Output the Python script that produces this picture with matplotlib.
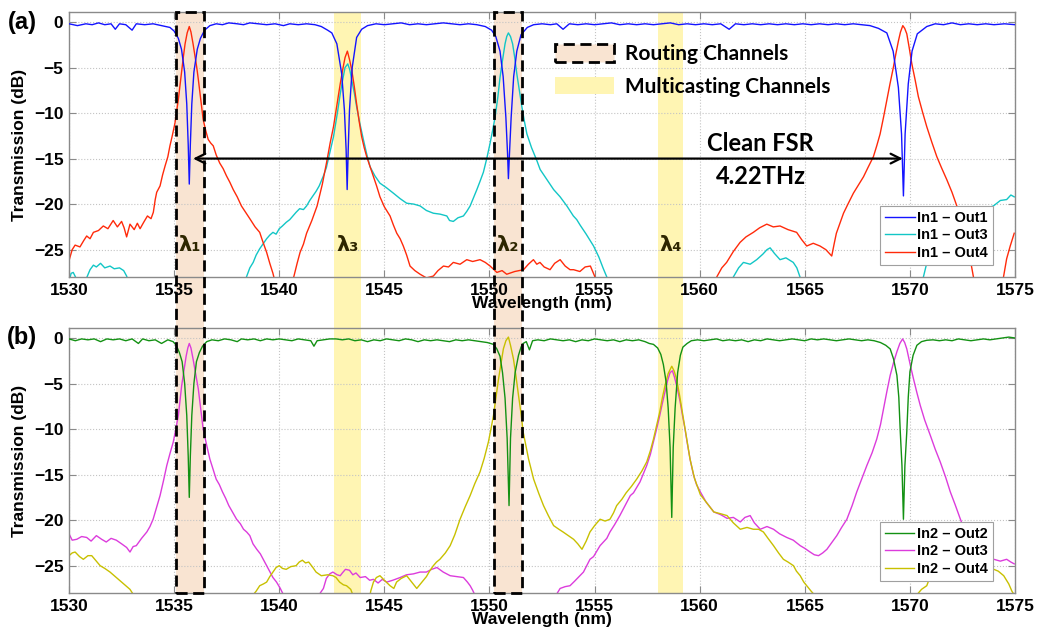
import matplotlib
matplotlib.use('Agg')
import matplotlib.pyplot as plt
from matplotlib.patches import Rectangle, Patch
import matplotlib.transforms as mtransforms

# ---------------- data ----------------
# (a) In1 -> Out1 (through port)
in1_out1_wl = [1530.0, 1530.4, 1530.8, 1531.1, 1531.4, 1531.7, 1532.0, 1532.2, 1532.4, 1532.7, 1533.0, 1533.2,
               1533.6, 1534.0, 1534.4, 1534.8, 1535.0, 1535.2, 1535.35, 1535.5, 1535.6, 1535.67, 1535.72, 1535.77,
               1535.84, 1535.94, 1536.1, 1536.25, 1536.45, 1536.7, 1537.0, 1537.3, 1537.6, 1538.0, 1538.3, 1538.6,
               1539.0, 1539.4, 1539.8, 1540.2, 1540.5, 1540.9, 1541.3, 1541.7, 1542.0, 1542.3, 1542.5, 1542.74,
               1542.97, 1543.1, 1543.18, 1543.23, 1543.28, 1543.34, 1543.47, 1543.68, 1543.92, 1544.2, 1544.6,
               1545.0, 1545.4, 1545.8, 1546.2, 1546.6, 1547.0, 1547.4, 1547.8, 1548.2, 1548.6, 1549.0, 1549.4,
               1549.8, 1550.1, 1550.3, 1550.5, 1550.65, 1550.78, 1550.86, 1550.9, 1550.95, 1551.03, 1551.15,
               1551.3, 1551.5, 1551.8, 1552.1, 1552.5, 1552.9, 1553.2, 1553.5, 1553.8, 1554.2, 1554.6, 1555.0,
               1555.4, 1555.8, 1556.2, 1556.6, 1557.0, 1557.4, 1557.8, 1558.2, 1558.6, 1559.0, 1559.4, 1559.8,
               1560.2, 1560.6, 1561.0, 1561.4, 1561.7, 1562.1, 1562.5, 1562.9, 1563.3, 1563.7, 1564.1, 1564.5,
               1564.9, 1565.3, 1565.7, 1566.1, 1566.5, 1566.9, 1567.3, 1567.7, 1568.1, 1568.5, 1568.9, 1569.2,
               1569.45, 1569.6, 1569.69, 1569.77, 1569.92, 1570.1, 1570.35, 1570.8, 1571.2, 1571.6, 1572.0,
               1572.4, 1572.8, 1573.2, 1573.6, 1574.0, 1574.5, 1575.0]
in1_out1_db = [-0.2, -0.4, -0.2, -0.3, -0.1, -0.3, -0.2, -0.8, -0.2, -0.3, -0.9, -0.2,
               -0.3, -0.2, -0.4, -0.6, -1.0, -1.8, -3.0, -5.5, -9.0, -13.5, -17.8, -13.5,
               -9.0, -5.5, -3.0, -1.8, -0.9, -0.4, -0.2, -0.3, -0.1, -0.2, -0.3, -0.1,
               -0.2, -0.3, -0.2, -0.4, -0.2, -0.3, -0.2, -0.3, -0.5, -0.9, -1.2, -2.4,
               -5.7, -9.7, -14.0, -18.4, -14.0, -9.7, -5.0, -1.7, -0.8, -0.4, -0.2,
               -0.3, -0.2, -0.1, -0.3, -0.2, -0.3, -0.2, -0.1, -0.2, -0.3, -0.2, -0.3,
               -0.5, -0.9, -1.6, -3.2, -6.0, -10.5, -14.5, -17.2, -14.5, -10.5, -6.0,
               -3.2, -1.4, -0.6, -0.3, -0.2, -0.3, -0.2, -0.8, -0.2, -0.3, -0.2, -0.3,
               -0.2, -0.1, -0.3, -0.2, -0.3, -0.2, -0.3, -0.2, -0.1, -0.3, -0.2, -0.3,
               -0.2, -0.3, -0.2, -0.8, -0.2, -0.3, -0.2, -0.3, -0.2, -0.3, -0.2, -0.3,
               -0.2, -0.3, -0.2, -0.3, -0.2, -0.3, -0.2, -0.3, -0.4, -0.7, -1.2, -3.2,
               -7.2, -12.3, -19.1, -12.3, -6.8, -3.2, -1.3, -0.5, -0.2, -0.3, -0.1,
               -0.3, -0.2, -0.3, -0.2, -0.3, -0.2, -0.3]

# (a) In1 -> Out3
in1_out3_wl = [1530.0, 1530.1, 1530.2, 1530.35, 1530.55, 1530.8, 1531.0, 1531.16, 1531.3, 1531.5, 1531.7, 1531.95,
               1532.15, 1532.4, 1532.6, 1532.74, 1532.9, 1533.5, 1538.0, 1538.44, 1538.6, 1538.76, 1538.9, 1539.07,
               1539.25, 1539.4, 1539.55, 1539.7, 1539.85, 1540.0, 1540.15, 1540.33, 1540.5, 1540.65, 1540.8,
               1540.97, 1541.15, 1541.3, 1541.45, 1541.6, 1541.75, 1541.9, 1542.1, 1542.24, 1542.4, 1542.58,
               1542.75, 1542.9, 1543.02, 1543.13, 1543.26, 1543.36, 1543.45, 1543.57, 1543.68, 1543.84, 1544.0,
               1544.16, 1544.32, 1544.55, 1544.79, 1545.1, 1545.43, 1545.75, 1546.06, 1546.4, 1546.7, 1547.0,
               1547.33, 1547.65, 1547.97, 1548.1, 1548.28, 1548.5, 1548.76, 1548.92, 1549.08, 1549.24, 1549.4,
               1549.55, 1549.71, 1549.87, 1550.03, 1550.15, 1550.27, 1550.4, 1550.5, 1550.62, 1550.74, 1550.82,
               1550.9, 1551.0, 1551.1, 1551.2, 1551.3, 1551.42, 1551.54, 1551.66, 1551.78, 1552.0, 1552.25,
               1552.41, 1552.73, 1553.05, 1553.36, 1553.68, 1553.99, 1554.15, 1554.31, 1554.6, 1554.95, 1555.2,
               1555.4, 1555.58, 1555.8, 1561.3, 1561.6, 1561.85, 1562.08, 1562.4, 1562.71, 1563.0, 1563.2,
               1563.35, 1563.55, 1563.82, 1564.1, 1564.45, 1564.62, 1564.77, 1565.0, 1570.4, 1570.64, 1570.85,
               1571.04, 1571.44, 1571.8, 1572.23, 1572.7, 1573.2, 1573.6, 1573.97, 1574.3, 1574.6, 1574.8, 1574.96]
in1_out3_db = [-28.5, -27.6, -27.5, -28.2, -28.5, -28.3, -27.2, -26.7, -26.9, -26.5, -27.0, -26.8,
               -27.1, -27.0, -27.3, -27.9, -29.0, -30.0, -30.0, -28.0, -27.0, -26.4, -25.6, -24.9,
               -24.3, -23.8, -23.4, -23.1, -23.3, -22.7, -22.4, -22.0, -21.7, -21.3, -20.9,
               -20.5, -20.6, -20.2, -19.6, -19.1, -18.6, -18.0, -16.9, -16.0, -14.4, -12.6,
               -10.2, -7.9, -6.3, -5.0, -4.6, -5.3, -6.4, -7.8, -9.3, -11.2, -12.9,
               -14.5, -15.9, -16.9, -17.7, -18.2, -18.8, -19.4, -19.9, -20.0, -20.2, -20.7,
               -21.0, -21.1, -21.3, -21.8, -21.9, -21.5, -21.3, -20.8, -20.2, -19.3, -18.4,
               -17.5, -16.5, -15.0, -13.3, -11.9, -10.4, -8.2, -6.1, -4.2, -2.4, -1.6,
               -1.2, -1.6, -2.4, -3.9, -5.7, -7.5, -9.3, -10.9, -12.3, -13.8, -15.2,
               -16.2, -17.3, -18.4, -19.2, -20.2, -21.3, -21.7, -22.3, -23.3, -24.6, -25.8,
               -27.0, -28.0, -30.0, -30.0, -28.0, -27.0, -26.4, -26.6, -26.1, -25.5, -25.0,
               -24.8, -25.4, -26.1, -25.9, -26.4, -27.0, -28.0, -30.0, -30.0, -28.0, -26.0,
               -24.9, -23.2, -22.5, -22.1, -21.5, -21.0, -20.5, -20.2, -19.6, -19.5, -19.0, -19.2]

# (a) In1 -> Out4
in1_out4_wl = [1530.0, 1530.15, 1530.29, 1530.52, 1530.7, 1530.84, 1531.0, 1531.16, 1531.4, 1531.63, 1531.85,
               1532.1, 1532.3, 1532.5, 1532.62, 1532.74, 1532.9, 1533.1, 1533.25, 1533.38, 1533.55, 1533.73,
               1533.9, 1534.01, 1534.1, 1534.17, 1534.33, 1534.45, 1534.57, 1534.7, 1534.8, 1534.92, 1535.04,
               1535.12, 1535.2, 1535.28, 1535.36, 1535.44, 1535.52, 1535.62, 1535.72, 1535.8, 1535.9, 1535.98,
               1536.07, 1536.15, 1536.23, 1536.3, 1536.38, 1536.5, 1536.62, 1536.74, 1536.86, 1537.0, 1537.17,
               1537.33, 1537.49, 1537.65, 1537.81, 1538.0, 1538.2, 1538.4, 1538.6, 1538.85, 1539.07, 1539.2,
               1539.4, 1539.55, 1539.7, 1539.85, 1540.2, 1540.55, 1540.7, 1540.85, 1540.99, 1541.15, 1541.3,
               1541.55, 1541.8, 1542.05, 1542.27, 1542.42, 1542.58, 1542.75, 1542.9, 1543.02, 1543.13, 1543.24,
               1543.35, 1543.45, 1543.57, 1543.68, 1543.8, 1543.92, 1544.04, 1544.16, 1544.32, 1544.48, 1544.63,
               1544.79, 1545.0, 1545.27, 1545.43, 1545.59, 1545.75, 1545.9, 1546.06, 1546.22, 1546.45, 1546.7,
               1547.0, 1547.33, 1547.55, 1547.81, 1548.05, 1548.28, 1548.6, 1548.92, 1549.2, 1549.55, 1549.8,
               1550.03, 1550.35, 1550.6, 1550.82, 1551.2, 1551.62, 1551.85, 1552.09, 1552.25, 1552.4, 1552.6,
               1552.88, 1553.1, 1553.36, 1553.6, 1553.83, 1554.0, 1554.3, 1554.55, 1554.8, 1555.0, 1555.2,
               1556.0, 1560.5, 1560.81, 1561.05, 1561.28, 1561.6, 1561.92, 1562.2, 1562.55, 1562.85, 1563.19,
               1563.5, 1563.82, 1564.2, 1564.61, 1564.85, 1565.09, 1565.4, 1565.72, 1566.0, 1566.28, 1566.4,
               1566.5, 1566.84, 1567.05, 1567.31, 1567.55, 1567.79, 1568.0, 1568.26, 1568.42, 1568.58, 1568.74,
               1568.9, 1569.05, 1569.21, 1569.33, 1569.45, 1569.55, 1569.66, 1569.75, 1569.85, 1569.97, 1570.09,
               1570.25, 1570.4, 1570.6, 1570.8, 1571.04, 1571.28, 1571.5, 1571.75, 1572.0, 1572.23, 1572.45,
               1572.7, 1572.85, 1573.02, 1573.2, 1574.3, 1574.45, 1574.6, 1574.77, 1574.96]
in1_out4_db = [-26.2, -25.0, -24.5, -24.7, -24.0, -23.5, -23.8, -23.1, -22.9, -22.4, -22.7,
               -21.8, -22.5, -21.9, -22.6, -23.6, -22.2, -22.8, -22.1, -22.7, -22.0, -21.3,
               -21.6, -20.9, -19.5, -18.7, -18.0, -16.8, -15.8, -14.8, -13.6, -12.4, -11.1,
               -9.8, -8.5, -6.9, -5.3, -3.8, -2.4, -1.2, -0.5, -1.1, -2.4, -3.6,
               -4.9, -6.3, -7.8, -9.2, -10.7, -11.9, -12.9, -13.3, -13.6, -14.6, -15.5,
               -16.1, -16.9, -17.6, -18.4, -19.2, -20.2, -20.9, -21.6, -22.5, -23.1, -24.0,
               -25.3, -26.5, -27.6, -29.0, -30.0, -29.0, -27.9, -26.5, -25.3, -24.4, -23.2,
               -21.8, -20.2, -17.8, -15.2, -13.3, -11.5, -9.0, -6.8, -5.2, -3.9, -3.2,
               -4.2, -5.3, -7.1, -9.0, -10.9, -12.6, -13.8, -14.8, -15.9, -17.0, -18.0,
               -19.2, -20.3, -21.3, -22.3, -23.2, -23.8, -24.6, -25.6, -26.8, -27.3, -27.7,
               -28.1, -27.9, -27.3, -26.8, -26.9, -26.4, -26.6, -26.1, -26.3, -26.1, -26.4,
               -26.8, -27.5, -27.3, -27.7, -27.4, -27.2, -26.6, -26.1, -26.6, -26.4, -26.9,
               -27.2, -26.5, -26.1, -26.8, -27.2, -27.2, -27.4, -26.9, -26.8, -27.9, -29.5,
               -31.0, -31.0, -28.0, -27.0, -26.4, -25.2, -24.2, -23.6, -23.1, -22.6, -22.2,
               -22.5, -22.4, -22.8, -23.1, -23.9, -24.6, -24.3, -24.6, -25.0, -25.7, -24.3,
               -23.2, -21.0, -20.0, -18.8, -17.9, -17.0, -16.0, -14.8, -13.6, -12.3, -10.5,
               -8.6, -6.8, -5.0, -3.5, -2.1, -1.1, -0.4, -0.7, -1.3, -2.9, -4.6,
               -6.4, -8.2, -9.9, -11.5, -13.2, -14.8, -16.0, -17.3, -18.7, -20.2, -22.0,
               -23.9, -25.8, -28.0, -30.0, -30.0, -28.0, -26.0, -24.6, -23.2]

# (b) In2 -> Out2 (through port)
in2_out2_wl = [1530.0, 1530.3, 1530.6, 1530.9, 1531.2, 1531.5, 1531.8, 1532.1, 1532.4, 1532.7, 1533.0, 1533.3,
               1533.5, 1533.8, 1534.1, 1534.4, 1534.7, 1534.95, 1535.1, 1535.25, 1535.38, 1535.5, 1535.6,
               1535.67, 1535.72, 1535.77, 1535.84, 1535.94, 1536.06, 1536.2, 1536.35, 1536.55, 1536.8, 1537.1,
               1537.4, 1537.7, 1538.0, 1538.2, 1538.5, 1538.8, 1539.1, 1539.4, 1539.7, 1540.0, 1540.3, 1540.6,
               1540.9, 1541.2, 1541.5, 1541.65, 1541.8, 1542.1, 1542.4, 1542.7, 1543.0, 1543.3, 1543.6, 1543.9,
               1544.2, 1544.5, 1544.8, 1545.1, 1545.4, 1545.7, 1546.0, 1546.3, 1546.6, 1546.9, 1547.2, 1547.5,
               1547.8, 1548.1, 1548.4, 1548.7, 1549.0, 1549.3, 1549.6, 1549.9, 1550.19, 1550.35, 1550.5,
               1550.62, 1550.74, 1550.84, 1550.93, 1551.0, 1551.1, 1551.22, 1551.38, 1551.5, 1551.6, 1551.75,
               1551.9, 1552.05, 1552.3, 1552.6, 1552.9, 1553.2, 1553.5, 1553.8, 1554.1, 1554.4, 1554.7, 1555.0,
               1555.3, 1555.6, 1555.9, 1556.2, 1556.5, 1556.8, 1557.1, 1557.4, 1557.6, 1557.8, 1558.0, 1558.15,
               1558.27, 1558.4, 1558.5, 1558.59, 1558.67, 1558.74, 1558.83, 1558.95, 1559.08, 1559.2, 1559.4,
               1559.6, 1559.9, 1560.2, 1560.5, 1560.8, 1561.1, 1561.4, 1561.7, 1562.0, 1562.3, 1562.6, 1562.9,
               1563.2, 1563.5, 1563.8, 1564.1, 1564.4, 1564.7, 1565.0, 1565.3, 1565.6, 1565.9, 1566.2, 1566.5,
               1566.8, 1567.1, 1567.4, 1567.7, 1568.0, 1568.3, 1568.6, 1568.85, 1569.06, 1569.22, 1569.38,
               1569.47, 1569.54, 1569.62, 1569.69, 1569.76, 1569.85, 1569.92, 1570.0, 1570.15, 1570.33, 1570.55,
               1570.8, 1571.1, 1571.4, 1571.7, 1572.0, 1572.3, 1572.6, 1572.9, 1573.2, 1573.5, 1573.8, 1574.1,
               1574.4, 1574.7, 1575.0]
in2_out2_db = [-0.1, -0.3, -0.1, -0.2, -0.1, -0.4, -0.1, -0.2, -0.1, -0.3, -0.1, -0.6,
               -0.1, -0.3, -0.2, -0.6, -0.2, -0.4, -0.8, -1.6, -2.6, -5.0, -8.5,
               -13.0, -17.5, -13.0, -8.5, -5.0, -2.6, -1.6, -0.9, -0.4, -0.2, -0.3,
               -0.1, -0.2, -0.4, -0.1, -0.2, -0.1, -0.3, -0.1, -0.2, -0.1, -0.2, -0.3,
               -0.1, -0.2, -0.3, -0.9, -0.3, -0.2, -0.1, -0.1, -0.2, -0.1, -0.3, -0.2,
               -0.4, -0.2, -0.3, -0.1, -0.2, -0.3, -0.1, -0.2, -0.4, -0.2, -0.3, -0.2,
               -0.3, -0.4, -0.2, -0.3, -0.2, -0.3, -0.4, -0.5, -0.7, -1.2, -2.0,
               -3.8, -6.6, -11.0, -18.4, -11.0, -6.6, -3.8, -1.9, -1.0, -0.6, -0.4,
               -1.3, -0.3, -0.2, -0.3, -0.1, -0.2, -0.3, -0.2, -0.4, -0.2, -0.3, -0.1,
               -0.2, -0.3, -0.2, -0.4, -0.2, -0.3, -0.2, -0.4, -0.6, -0.7, -1.1, -1.8,
               -2.9, -4.8, -7.7, -12.0, -19.7, -12.0, -7.7, -3.8, -1.9, -1.0, -0.6,
               -0.3, -0.2, -0.3, -0.2, -0.1, -0.3, -0.2, -0.3, -0.2, -0.4, -0.2, -0.3,
               -0.1, -0.2, -0.3, -0.2, -0.1, -0.2, -0.3, -0.1, -0.2, -0.1, -0.2, -0.3,
               -0.2, -0.1, -0.2, -0.3, -0.2, -0.3, -0.5, -0.8, -1.2, -2.3, -4.1,
               -6.5, -10.3, -14.0, -19.9, -14.0, -10.3, -6.5, -3.7, -1.9, -0.8, -0.4,
               -0.25, -0.2, -0.3, -0.2, -0.3, -0.1, -0.2, -0.3, -0.2, -0.1, -0.2, -0.1,
               0.0, 0.1, 0.0]

# (b) In2 -> Out3
in2_out3_wl = [1530.0, 1530.15, 1530.37, 1530.6, 1530.84, 1531.05, 1531.3, 1531.55, 1531.77, 1532.0, 1532.25,
               1532.5, 1532.74, 1532.9, 1533.05, 1533.2, 1533.45, 1533.7, 1533.85, 1534.0, 1534.15, 1534.33,
               1534.5, 1534.65, 1534.8, 1534.96, 1535.08, 1535.2, 1535.28, 1535.36, 1535.47, 1535.57, 1535.65,
               1535.72, 1535.8, 1535.9, 1536.02, 1536.15, 1536.26, 1536.38, 1536.55, 1536.7, 1536.85, 1537.0,
               1537.15, 1537.3, 1537.45, 1537.6, 1537.8, 1537.97, 1538.15, 1538.3, 1538.45, 1538.6, 1538.75,
               1538.93, 1539.1, 1539.24, 1539.4, 1539.56, 1539.7, 1539.87, 1540.05, 1540.2, 1540.5, 1541.7,
               1541.95, 1542.1, 1542.24, 1542.4, 1542.55, 1542.75, 1542.9, 1543.0, 1543.15, 1543.34, 1543.5,
               1543.65, 1543.85, 1544.1, 1544.3, 1544.48, 1544.7, 1544.9, 1545.11, 1545.4, 1545.75, 1546.05,
               1546.38, 1546.7, 1547.0, 1547.25, 1547.5, 1547.8, 1548.13, 1548.45, 1548.76, 1548.95, 1549.08,
               1549.2, 1549.3, 1549.6, 1552.9, 1553.2, 1553.36, 1553.6, 1553.83, 1554.05, 1554.3, 1554.47,
               1554.78, 1554.95, 1555.26, 1555.58, 1555.73, 1555.95, 1556.2, 1556.45, 1556.7, 1556.85, 1557.16,
               1557.3, 1557.48, 1557.65, 1557.8, 1557.96, 1558.1, 1558.22, 1558.35, 1558.47, 1558.59, 1558.7,
               1558.8, 1558.92, 1559.06, 1559.18, 1559.3, 1559.42, 1559.54, 1559.7, 1559.85, 1560.03, 1560.3,
               1560.67, 1561.0, 1561.3, 1561.6, 1561.93, 1562.15, 1562.4, 1562.6, 1562.88, 1563.2, 1563.51,
               1563.8, 1564.14, 1564.45, 1564.78, 1565.0, 1565.25, 1565.45, 1565.65, 1565.85, 1566.05, 1566.3,
               1566.52, 1566.75, 1567.0, 1567.25, 1567.47, 1567.7, 1567.95, 1568.2, 1568.42, 1568.6, 1568.74,
               1568.9, 1569.06, 1569.22, 1569.38, 1569.52, 1569.65, 1569.75, 1569.85, 1570.0, 1570.17, 1570.33,
               1570.49, 1570.7, 1570.97, 1571.2, 1571.44, 1571.7, 1571.92, 1572.15, 1572.4, 1572.65, 1572.87,
               1573.1, 1573.35, 1573.65, 1573.99, 1574.3, 1574.6, 1574.8, 1574.96]
in2_out3_db = [-21.5, -22.2, -22.1, -21.8, -21.9, -22.3, -21.7, -22.1, -22.4, -22.0, -22.2,
               -22.6, -23.0, -23.5, -22.9, -22.8, -22.0, -21.3, -20.7, -19.9, -18.7, -17.3,
               -15.6, -14.0, -12.7, -11.4, -10.0, -8.5, -6.8, -5.2, -3.5, -2.0, -1.1,
               -0.6, -1.1, -2.3, -3.9, -5.6, -7.7, -10.0, -11.8, -13.3, -14.4, -15.5,
               -16.1, -16.9, -17.6, -18.4, -19.2, -19.9, -20.4, -21.0, -21.3, -21.7, -22.6,
               -23.2, -23.7, -24.3, -25.0, -25.7, -26.3, -26.8, -27.5, -28.2, -30.0, -30.0,
               -28.0, -27.5, -26.4, -25.9, -25.7, -26.0, -26.1, -25.8, -25.4, -25.5, -26.0,
               -25.8, -26.3, -26.2, -26.6, -26.5, -26.9, -26.5, -26.8, -26.6, -26.3, -26.0,
               -25.9, -25.7, -25.7, -25.4, -25.2, -25.7, -26.1, -26.2, -26.3, -26.8, -27.2,
               -27.7, -28.2, -30.0, -30.0, -28.1, -27.5, -27.3, -27.2, -26.7, -26.1, -25.7,
               -24.3, -24.0, -22.8, -22.0, -21.3, -20.5, -19.5, -18.4, -17.3, -17.0, -15.8,
               -15.0, -14.0, -12.8, -11.4, -9.9, -8.5, -7.2, -5.9, -4.7, -3.8, -3.6,
               -4.3, -5.4, -6.9, -8.5, -10.0, -11.7, -13.3, -15.0, -16.1, -16.9, -18.0,
               -19.1, -19.4, -19.8, -19.7, -20.2, -19.7, -19.5, -20.3, -21.0, -20.7, -21.0,
               -21.5, -21.9, -22.2, -22.8, -23.1, -23.5, -23.8, -23.9, -23.6, -23.2, -22.4,
               -21.7, -20.8, -19.9, -18.4, -16.9, -15.5, -14.0, -12.6, -11.1, -9.5, -7.8,
               -5.9, -4.1, -2.7, -1.5, -0.6, -0.1, -0.5, -1.2, -2.8, -4.5, -6.0,
               -7.4, -9.0, -10.7, -12.2, -13.6, -15.3, -16.9, -18.3, -19.9, -21.4, -22.8,
               -23.8, -24.6, -24.4, -24.3, -24.5, -24.3, -24.6, -24.8]

# (b) In2 -> Out4
in2_out4_wl = [1530.0, 1530.15, 1530.29, 1530.5, 1530.68, 1530.9, 1531.08, 1531.3, 1531.48, 1531.7, 1531.95,
               1532.2, 1532.4, 1532.65, 1532.9, 1533.04, 1533.3, 1538.4, 1538.76, 1538.9, 1539.07, 1539.25,
               1539.4, 1539.55, 1539.7, 1539.85, 1540.0, 1540.15, 1540.33, 1540.55, 1540.8, 1540.95, 1541.1,
               1541.25, 1541.4, 1541.6, 1541.75, 1542.0, 1542.3, 1542.55, 1542.7, 1542.87, 1543.05, 1543.2,
               1543.4, 1543.5, 1543.8, 1544.2, 1544.35, 1544.48, 1544.62, 1544.79, 1545.0, 1545.27, 1545.45,
               1545.58, 1545.8, 1546.06, 1546.3, 1546.54, 1546.75, 1547.0, 1547.15, 1547.33, 1547.48, 1547.64,
               1547.9, 1548.13, 1548.35, 1548.6, 1548.85, 1549.08, 1549.3, 1549.55, 1549.75, 1549.95, 1550.07,
               1550.19, 1550.31, 1550.43, 1550.55, 1550.66, 1550.78, 1550.9, 1551.0, 1551.14, 1551.26, 1551.38,
               1551.5, 1551.6, 1551.73, 1551.86, 1552.1, 1552.35, 1552.57, 1552.8, 1553.05, 1553.3, 1553.5,
               1553.75, 1554.0, 1554.2, 1554.4, 1554.6, 1554.78, 1555.0, 1555.26, 1555.5, 1555.73, 1555.9,
               1556.05, 1556.3, 1556.5, 1556.75, 1557.0, 1557.25, 1557.48, 1557.65, 1557.8, 1557.95, 1558.1,
               1558.22, 1558.35, 1558.5, 1558.67, 1558.78, 1558.9, 1559.05, 1559.2, 1559.37, 1559.54, 1559.75,
               1560.03, 1560.3, 1560.67, 1561.0, 1561.3, 1561.6, 1561.93, 1562.25, 1562.55, 1562.8, 1563.03,
               1563.25, 1563.51, 1563.75, 1563.98, 1564.2, 1564.46, 1564.6, 1564.78, 1564.95, 1565.09, 1565.3,
               1565.57, 1565.9, 1570.0, 1570.33, 1570.55, 1570.8, 1571.04, 1571.28, 1571.6, 1572.0, 1572.5,
               1573.0, 1573.5, 1573.99, 1574.2, 1574.46, 1574.7, 1574.85, 1574.96]
in2_out4_db = [-23.9, -23.6, -23.5, -24.0, -24.3, -23.9, -23.9, -24.5, -25.0, -25.3, -25.7,
               -26.2, -26.6, -27.1, -27.6, -28.1, -30.0, -30.0, -28.2, -27.8, -27.2, -27.0,
               -26.8, -26.2, -25.7, -25.2, -25.0, -25.3, -25.4, -25.1, -25.0, -24.6, -24.4,
               -24.7, -24.6, -25.2, -25.7, -26.1, -26.0, -26.1, -26.3, -26.8, -27.1, -27.2,
               -27.6, -28.2, -30.0, -30.0, -27.8, -26.8, -26.3, -26.1, -26.6, -27.2, -27.5,
               -26.8, -26.4, -26.1, -26.8, -27.5, -26.9, -26.2, -25.6, -25.0, -24.6, -24.3,
               -23.6, -22.8, -21.6, -19.9, -18.5, -17.3, -16.0, -14.7, -13.2, -11.4, -10.0,
               -8.5, -6.5, -4.5, -2.8, -1.2, -0.3, 0.1, -0.8, -2.3, -4.2, -6.3,
               -8.3, -10.3, -11.8, -13.3, -15.5, -17.1, -18.4, -19.5, -20.6, -21.0, -21.3,
               -21.7, -22.1, -22.6, -23.2, -22.3, -21.3, -20.6, -19.9, -20.1, -19.9, -19.2,
               -18.4, -17.7, -17.0, -16.3, -15.5, -14.6, -13.6, -12.4, -11.1, -9.6, -8.1,
               -6.6, -5.2, -3.9, -3.1, -3.6, -4.5, -6.4, -8.5, -10.9, -13.3, -15.4,
               -17.2, -18.0, -19.1, -19.3, -19.5, -20.3, -21.0, -20.8, -21.0, -21.0, -21.3,
               -22.0, -22.8, -23.6, -24.3, -24.6, -25.0, -25.6, -26.1, -26.8, -27.2, -27.8,
               -28.5, -30.0, -30.0, -28.2, -27.6, -27.2, -25.7, -24.8, -24.3, -24.0, -24.3,
               -24.8, -25.2, -25.4, -25.6, -26.1, -27.0, -27.8, -28.2]

routing_bands = [(1535.1, 1536.4), (1550.2, 1551.55)]
multicast_bands = [(1542.6, 1543.9), (1558.0, 1559.2)]
routing_labels = ['λ₁', 'λ₂']
multicast_labels = ['λ₃', 'λ₄']
fsr_ends = (1535.9, 1569.66)
fsr_level = -15.0
xticks = list(range(1530, 1576, 5))
yticks = [-25, -20, -15, -10, -5, 0]
ytick_labels = ['\u221225', '\u221220', '\u221215', '\u221210', '\u22125', '0']

# ---------------- style ----------------
c_blue, c_cyan, c_red = '#1414ff', '#12c6c6', '#ff2a0a'
c_green, c_mag, c_yel = '#139113', '#dc3cdc', '#c8c000'
peach, pale_yellow = '#f9e4d2', '#fff5b3'
frame = '#8a8a8a'
main_font = ['Liberation Sans', 'DejaVu Sans']
note_font = ['Lato', 'DejaVu Sans']

plt.rcParams['font.family'] = main_font
plt.rcParams['font.weight'] = 'bold'
plt.rcParams['axes.labelweight'] = 'bold'

fig = plt.figure(figsize=(10.38, 6.36), dpi=100)
ax1 = fig.add_axes([0.0665, 0.5645, 0.9114, 0.4167])
ax2 = fig.add_axes([0.0665, 0.0676, 0.9114, 0.4167])

ax1.plot(in1_out1_wl, in1_out1_db, color=c_blue, lw=1.0, label='In1 – Out1', zorder=3)
ax1.plot(in1_out3_wl, in1_out3_db, color=c_cyan, lw=1.0, label='In1 – Out3', zorder=2)
ax1.plot(in1_out4_wl, in1_out4_db, color=c_red, lw=1.0, label='In1 – Out4', zorder=2)

ax2.plot(in2_out2_wl, in2_out2_db, color=c_green, lw=1.0, label='In2 – Out2', zorder=3)
ax2.plot(in2_out3_wl, in2_out3_db, color=c_mag, lw=1.0, label='In2 – Out3', zorder=2)
ax2.plot(in2_out4_wl, in2_out4_db, color=c_yel, lw=1.0, label='In2 – Out4', zorder=2)

for ax in (ax1, ax2):
    ax.set_xlim(1530, 1575)
    ax.set_ylim(-28, 1.1)
    ax.set_xticks(xticks)
    ax.set_yticks(yticks)
    ax.set_yticklabels(ytick_labels)
    ax.patch.set_visible(False)
    ax.grid(True, linestyle=':', color='#c4c4c4', lw=0.8)
    ax.tick_params(direction='in', length=5, color=frame, top=True, right=True,
                   labelsize=12.5, pad=4)
    for lab in ax.get_xticklabels() + ax.get_yticklabels():
        lab.set_fontweight('bold')
    for sp in ax.spines.values():
        sp.set_color(frame)
        sp.set_linewidth(1.0)
    ax.set_ylabel('Transmission (dB)', fontsize=12.5, labelpad=5)
    ax.set_xlabel('Wavelength (nm)', fontsize=12.5, labelpad=-1)

# channel bands spanning both panels
blend = mtransforms.blended_transform_factory(ax1.transData, fig.transFigure)
y_lo = ax2.get_position().y0
y_hi = ax1.get_position().y1
for x0, x1 in routing_bands:
    fig.add_artist(Rectangle((x0, y_lo), x1 - x0, y_hi - y_lo, transform=blend,
                             facecolor=peach, edgecolor='none', zorder=-1))
    fig.add_artist(Rectangle((x0, y_lo), x1 - x0, y_hi - y_lo, transform=blend,
                             fill=False, edgecolor='black', lw=2.0, linestyle=(0, (4, 2)), zorder=5))
for x0, x1 in multicast_bands:
    fig.add_artist(Rectangle((x0, y_lo), x1 - x0, y_hi - y_lo, transform=blend,
                             facecolor=pale_yellow, edgecolor='none', zorder=-1))

# lambda labels
for (x0, x1), lab in zip(routing_bands + multicast_bands, routing_labels + multicast_labels):
    ax1.text((x0 + x1) / 2, -24.5, lab, ha='center', va='center', fontsize=15,
             fontweight='bold', color='#2e2600', family=['DejaVu Sans'], zorder=6)

# clean FSR arrow
ax1.annotate('', xy=(fsr_ends[0], fsr_level), xytext=(fsr_ends[1], fsr_level),
             arrowprops=dict(arrowstyle='<->,head_length=0.7,head_width=0.35', lw=1.6, color='black',
                             shrinkA=0, shrinkB=0), zorder=6)
ax1.text(1562.9, fsr_level + 0.4, 'Clean FSR', ha='center', va='bottom', fontsize=17,
         fontweight='bold', family=note_font)
ax1.text(1562.9, fsr_level - 0.7, '4.22THz', ha='center', va='top', fontsize=17,
         fontweight='bold', family=note_font)

# channel legend
ch_handles = [Patch(facecolor=peach, edgecolor='black', linestyle=(0, (4, 2)), linewidth=2.0),
              Patch(facecolor=pale_yellow, edgecolor='none')]
ch_leg = ax1.legend(ch_handles, ['Routing Channels', 'Multicasting Channels'],
                    loc='upper left', bbox_to_anchor=(0.514, 0.878), frameon=False,
                    prop={'family': note_font, 'weight': 'bold', 'size': 15},
                    handlelength=2.8, handleheight=0.9, handletextpad=0.55,
                    labelspacing=0.6, borderpad=0, borderaxespad=0)
ax1.add_artist(ch_leg)

# trace legends
for ax in (ax1, ax2):
    leg = ax.legend(loc='lower right', bbox_to_anchor=(0.977, 0.045), fontsize=10.5,
                    handlelength=2.0, handletextpad=0.2, labelspacing=0.25,
                    borderpad=0.35, borderaxespad=0, fancybox=False, framealpha=1,
                    edgecolor='#a0a0a0')
    leg.get_frame().set_linewidth(0.8)

fig.text(22 / 1038, 1 - 22 / 636, '(a)', fontsize=17, fontweight='bold', ha='center', va='center')
fig.text(22 / 1038, 1 - 337 / 636, '(b)', fontsize=17, fontweight='bold', ha='center', va='center')

fig.savefig('out.png', dpi=100, facecolor='white')
